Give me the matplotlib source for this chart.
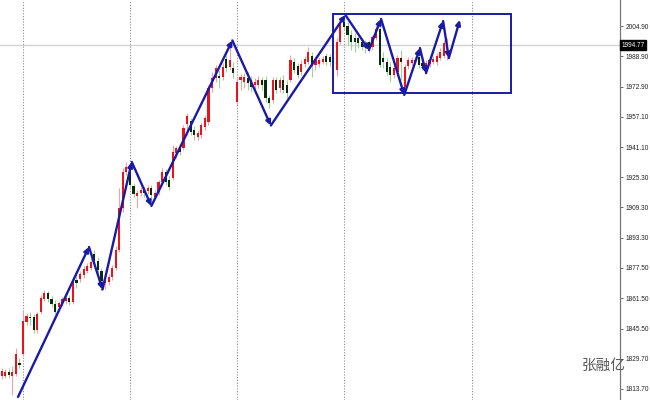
import numpy as np
import matplotlib
matplotlib.use("Agg")
import matplotlib.pyplot as plt

# --- dados ---
opens = [1820.6, 1820.6, 1822.7, 1820.6, 1821.6, 1827.4, 1832.1, 1849.0, 1851.6, 1851.6,
         1844.8, 1854.3, 1861.1, 1864.3, 1861.1, 1858.5, 1856.9, 1859.0, 1860.1, 1861.6,
         1859.5, 1871.1, 1871.7, 1873.8, 1875.9, 1877.4, 1884.8, 1881.1, 1875.9, 1869.5,
         1870.1, 1872.7, 1877.4, 1886.9, 1909.0, 1928.0, 1928.0, 1920.6, 1915.4, 1917.0,
         1918.5, 1918.0, 1919.6, 1914.8, 1917.5, 1922.7, 1928.0, 1923.8, 1924.9, 1938.0,
         1941.2, 1940.6, 1953.3, 1954.9, 1950.1, 1946.4, 1947.5, 1951.7, 1954.3, 1972.2,
         1977.5, 1978.6, 1978.0, 1987.5, 1983.3, 1982.8, 1964.9, 1976.5, 1975.4, 1977.5,
         1976.5, 1973.8, 1973.8, 1976.5, 1976.5, 1967.0, 1965.9, 1976.5, 1972.2, 1976.5,
         1973.8, 1976.5, 1985.9, 1983.8, 1980.7, 1984.9, 1985.9, 1989.1, 1984.4, 1984.9,
         1985.9, 1989.1, 1988.6, 1987.0, 1981.7, 1996.5, 2007.0, 2004.9, 2000.2, 1998.6,
         1998.6, 1996.5, 1996.0, 1996.5, 1993.8, 1998.6, 2003.3, 1988.1, 1985.9, 1983.3,
         1979.1, 1980.7, 1988.1, 1972.8, 1983.8, 1985.4, 1987.0, 1988.6, 1985.4, 1981.7,
         1984.9, 1985.9, 1985.9, 1988.1, 1989.1, 1994.0]
highs = [1824.8, 1824.2, 1824.8, 1825.8, 1835.3, 1830.0, 1855.3, 1853.7, 1854.3, 1853.2,
         1854.3, 1863.2, 1865.9, 1865.3, 1862.7, 1860.6, 1860.1, 1862.2, 1862.7, 1863.2,
         1872.2, 1873.8, 1875.9, 1878.5, 1880.1, 1882.7, 1886.9, 1883.2, 1877.4, 1872.2,
         1874.3, 1879.0, 1889.0, 1919.6, 1930.1, 1933.3, 1932.7, 1922.2, 1918.5, 1920.1,
         1920.6, 1921.2, 1921.2, 1918.5, 1923.8, 1930.1, 1929.6, 1925.9, 1942.2, 1941.7,
         1942.8, 1952.8, 1959.1, 1956.5, 1952.2, 1950.1, 1954.3, 1958.0, 1973.8, 1980.7,
         1984.4, 1981.7, 1985.4, 1989.6, 1996.5, 1985.9, 1977.5, 1979.6, 1980.2, 1980.7,
         1978.6, 1977.5, 1978.6, 1978.0, 1978.6, 1968.6, 1978.0, 1978.0, 1978.0, 1979.1,
         1976.5, 1989.6, 1988.1, 1985.4, 1987.0, 1989.1, 1993.8, 1991.2, 1988.6, 1988.6,
         1989.1, 1990.7, 1990.2, 1988.6, 1998.6, 2009.1, 2009.6, 2007.0, 2002.8, 2001.2,
         2000.2, 1998.6, 1997.5, 1997.5, 2000.2, 2004.9, 2006.0, 1991.2, 1988.1, 1985.9,
         1984.4, 1989.6, 1992.3, 1984.9, 1988.6, 1988.6, 1988.6, 1992.3, 1987.0, 1987.0,
         1988.6, 1989.1, 1990.7, 1993.3, 1997.5, 1998.6]
lows = [1819.0, 1819.5, 1819.5, 1810.6, 1820.6, 1824.8, 1831.1, 1847.4, 1847.4, 1843.2,
        1843.2, 1853.2, 1860.1, 1859.5, 1856.9, 1853.2, 1855.3, 1857.4, 1858.5, 1858.0,
        1858.5, 1866.9, 1870.1, 1872.2, 1874.8, 1876.4, 1879.5, 1874.8, 1865.9, 1866.4,
        1868.5, 1871.1, 1876.4, 1885.9, 1906.9, 1926.4, 1919.6, 1914.8, 1909.0, 1915.4,
        1914.8, 1916.4, 1913.8, 1913.3, 1915.9, 1921.2, 1921.2, 1918.5, 1923.8, 1935.4,
        1937.0, 1939.6, 1947.5, 1947.5, 1944.9, 1944.9, 1945.9, 1950.1, 1952.8, 1970.1,
        1975.4, 1972.2, 1976.5, 1980.7, 1981.7, 1977.5, 1963.3, 1971.2, 1972.2, 1971.2,
        1970.1, 1971.2, 1972.2, 1971.2, 1964.9, 1961.7, 1964.4, 1969.6, 1970.1, 1969.6,
        1967.0, 1975.4, 1980.2, 1977.5, 1979.1, 1983.3, 1984.9, 1978.0, 1981.7, 1983.3,
        1984.9, 1984.4, 1983.8, 1983.8, 1978.6, 1995.4, 2002.8, 1994.9, 1992.3, 1991.2,
        1993.3, 1992.3, 1990.7, 1991.2, 1992.3, 1997.5, 1983.3, 1982.8, 1979.1, 1975.4,
        1977.5, 1979.1, 1976.5, 1970.1, 1982.3, 1984.4, 1984.9, 1982.8, 1981.7, 1979.6,
        1983.3, 1984.9, 1984.4, 1987.0, 1988.1, 1987.0]
closes = [1823.2, 1822.7, 1821.1, 1822.7, 1832.1, 1826.4, 1849.5, 1852.2, 1851.1, 1844.8,
          1853.2, 1861.6, 1864.3, 1861.1, 1858.5, 1854.3, 1859.0, 1861.1, 1861.6, 1859.5,
          1870.6, 1869.5, 1874.3, 1876.9, 1878.5, 1880.6, 1881.1, 1876.4, 1870.6, 1871.1,
          1872.7, 1877.4, 1886.9, 1909.0, 1928.0, 1930.6, 1921.2, 1916.4, 1917.0, 1918.5,
          1917.0, 1919.6, 1915.9, 1917.0, 1922.7, 1928.0, 1922.7, 1920.1, 1938.5, 1940.6,
          1938.5, 1951.2, 1957.5, 1949.1, 1947.5, 1948.5, 1952.8, 1956.5, 1972.2, 1977.5,
          1982.8, 1977.5, 1983.3, 1982.8, 1987.0, 1980.2, 1975.4, 1978.0, 1978.0, 1974.9,
          1972.8, 1975.4, 1976.5, 1973.8, 1967.0, 1964.4, 1976.5, 1971.2, 1976.5, 1971.2,
          1969.6, 1987.0, 1981.7, 1979.1, 1984.9, 1987.5, 1991.2, 1983.8, 1987.0, 1987.0,
          1987.5, 1985.9, 1985.9, 1985.4, 1996.5, 2006.0, 2004.4, 2000.2, 1996.5, 1996.5,
          1996.0, 1993.8, 1994.4, 1993.3, 1999.1, 2003.3, 1984.4, 1985.9, 1980.7, 1979.1,
          1982.8, 1988.1, 1985.9, 1983.3, 1987.0, 1987.0, 1985.9, 1984.4, 1983.8, 1985.4,
          1987.0, 1987.5, 1989.1, 1991.2, 1996.0, 1994.77]

# zigzag desenhado à mão (índice da vela, preço)
zz_idx = [4.6, 24.5, 28.3, 36.5, 42.0, 64.7, 75.5, 96.4, 103.0, 106.4, 112.9, 117.3,
          119.0, 123.8, 125.4, 128.5]
zz_price = [1809.5, 1888.5, 1866.1, 1933.3, 1910.1, 1997.3, 1952.5, 2010.7, 1992.3,
            2008.6, 1968.6, 1993.3, 1980.1, 2007.5, 1988.0, 2008.1]

box_left, box_right = 93.0, 142.8
box_bottom, box_top = 1969.5, 2011.2

day_sep = [6, 36, 66, 96, 132]
last_price = 1994.77
yticks = [2004.90, 1988.90, 1972.90, 1957.10, 1941.10, 1925.30, 1909.30,
          1893.30, 1877.50, 1861.50, 1845.50, 1829.70, 1813.70]

# --- estilo ---
UP_BODY, UP_WICK = "#e8141c", "#f2a0a0"
DN_BODY, DN_WICK = "#0c2a0c", "#9ad49a"
ZZ_COLOR = "#1a1aa6"
TICK_FONT = ["Liberation Sans", "DejaVu Sans"]

fig = plt.figure(figsize=(6.5, 4), dpi=100)
ax = fig.add_axes([0, 0, 620 / 650, 1])

o = np.array(opens)
h = np.array(highs)
l = np.array(lows)
c = np.array(closes)
x = np.arange(len(o))
up = c >= o

for d in day_sep:
    ax.axvline(d, color="#8c8c8c", linestyle=(0, (1, 1.5)), linewidth=0.8, zorder=1)

ax.axhline(last_price, color="#d4d4d4", linewidth=1.0, zorder=1)

ax.vlines(x[up], l[up], h[up], color=UP_WICK, linewidth=0.8, zorder=2)
ax.vlines(x[~up], l[~up], h[~up], color=DN_WICK, linewidth=0.8, zorder=2)
body_h = np.maximum(np.abs(c - o), 0.6)
ax.bar(x[up], body_h[up], bottom=np.minimum(o, c)[up], width=0.6,
       color=UP_BODY, linewidth=0, zorder=3)
ax.bar(x[~up], body_h[~up], bottom=np.minimum(o, c)[~up], width=0.6,
       color=DN_BODY, linewidth=0, zorder=3)

# zigzag com setas
for k in range(len(zz_idx) - 1):
    ax.annotate("", xy=(zz_idx[k + 1], zz_price[k + 1]),
                xytext=(zz_idx[k], zz_price[k]),
                arrowprops=dict(arrowstyle="-|>", color=ZZ_COLOR, lw=1.7,
                                mutation_scale=7, shrinkA=0, shrinkB=0),
                zorder=5)

ax.add_patch(plt.Rectangle((box_left, box_bottom), box_right - box_left,
                           box_top - box_bottom, fill=False,
                           edgecolor=ZZ_COLOR, linewidth=1.4, zorder=5))

ax.set_xlim(-0.45, 173.4)
ax.set_ylim(1807.9, 2018.6)
ax.set_xticks([])
ax.yaxis.tick_right()
ax.set_yticks(yticks)
ax.set_yticklabels([f"{v:.2f}" for v in yticks], family=TICK_FONT)
ax.tick_params(axis="y", direction="out", length=2.5, width=0.6, color="#555555",
               labelsize=4.7, labelcolor="#222222", pad=1.5)
for side in ["top", "left", "bottom"]:
    ax.spines[side].set_visible(False)
ax.spines["right"].set_color("#777777")
ax.spines["right"].set_linewidth(0.9)

# etiqueta do preço atual
ax.text(1.002, last_price, f"{last_price:.2f}", transform=ax.get_yaxis_transform(),
        ha="left", va="center", fontsize=4.7, color="white", clip_on=False,
        family=TICK_FONT,
        bbox=dict(boxstyle="square,pad=0.2", facecolor="black", edgecolor="black"),
        zorder=6)

fig.text(604 / 650, 1 - 366 / 400, "张融亿", ha="center", va="center",
         fontsize=10.5, color="#5a5a5a", family=["Noto Sans CJK SC", "DejaVu Sans"])

fig.savefig("out.png", dpi=100)
